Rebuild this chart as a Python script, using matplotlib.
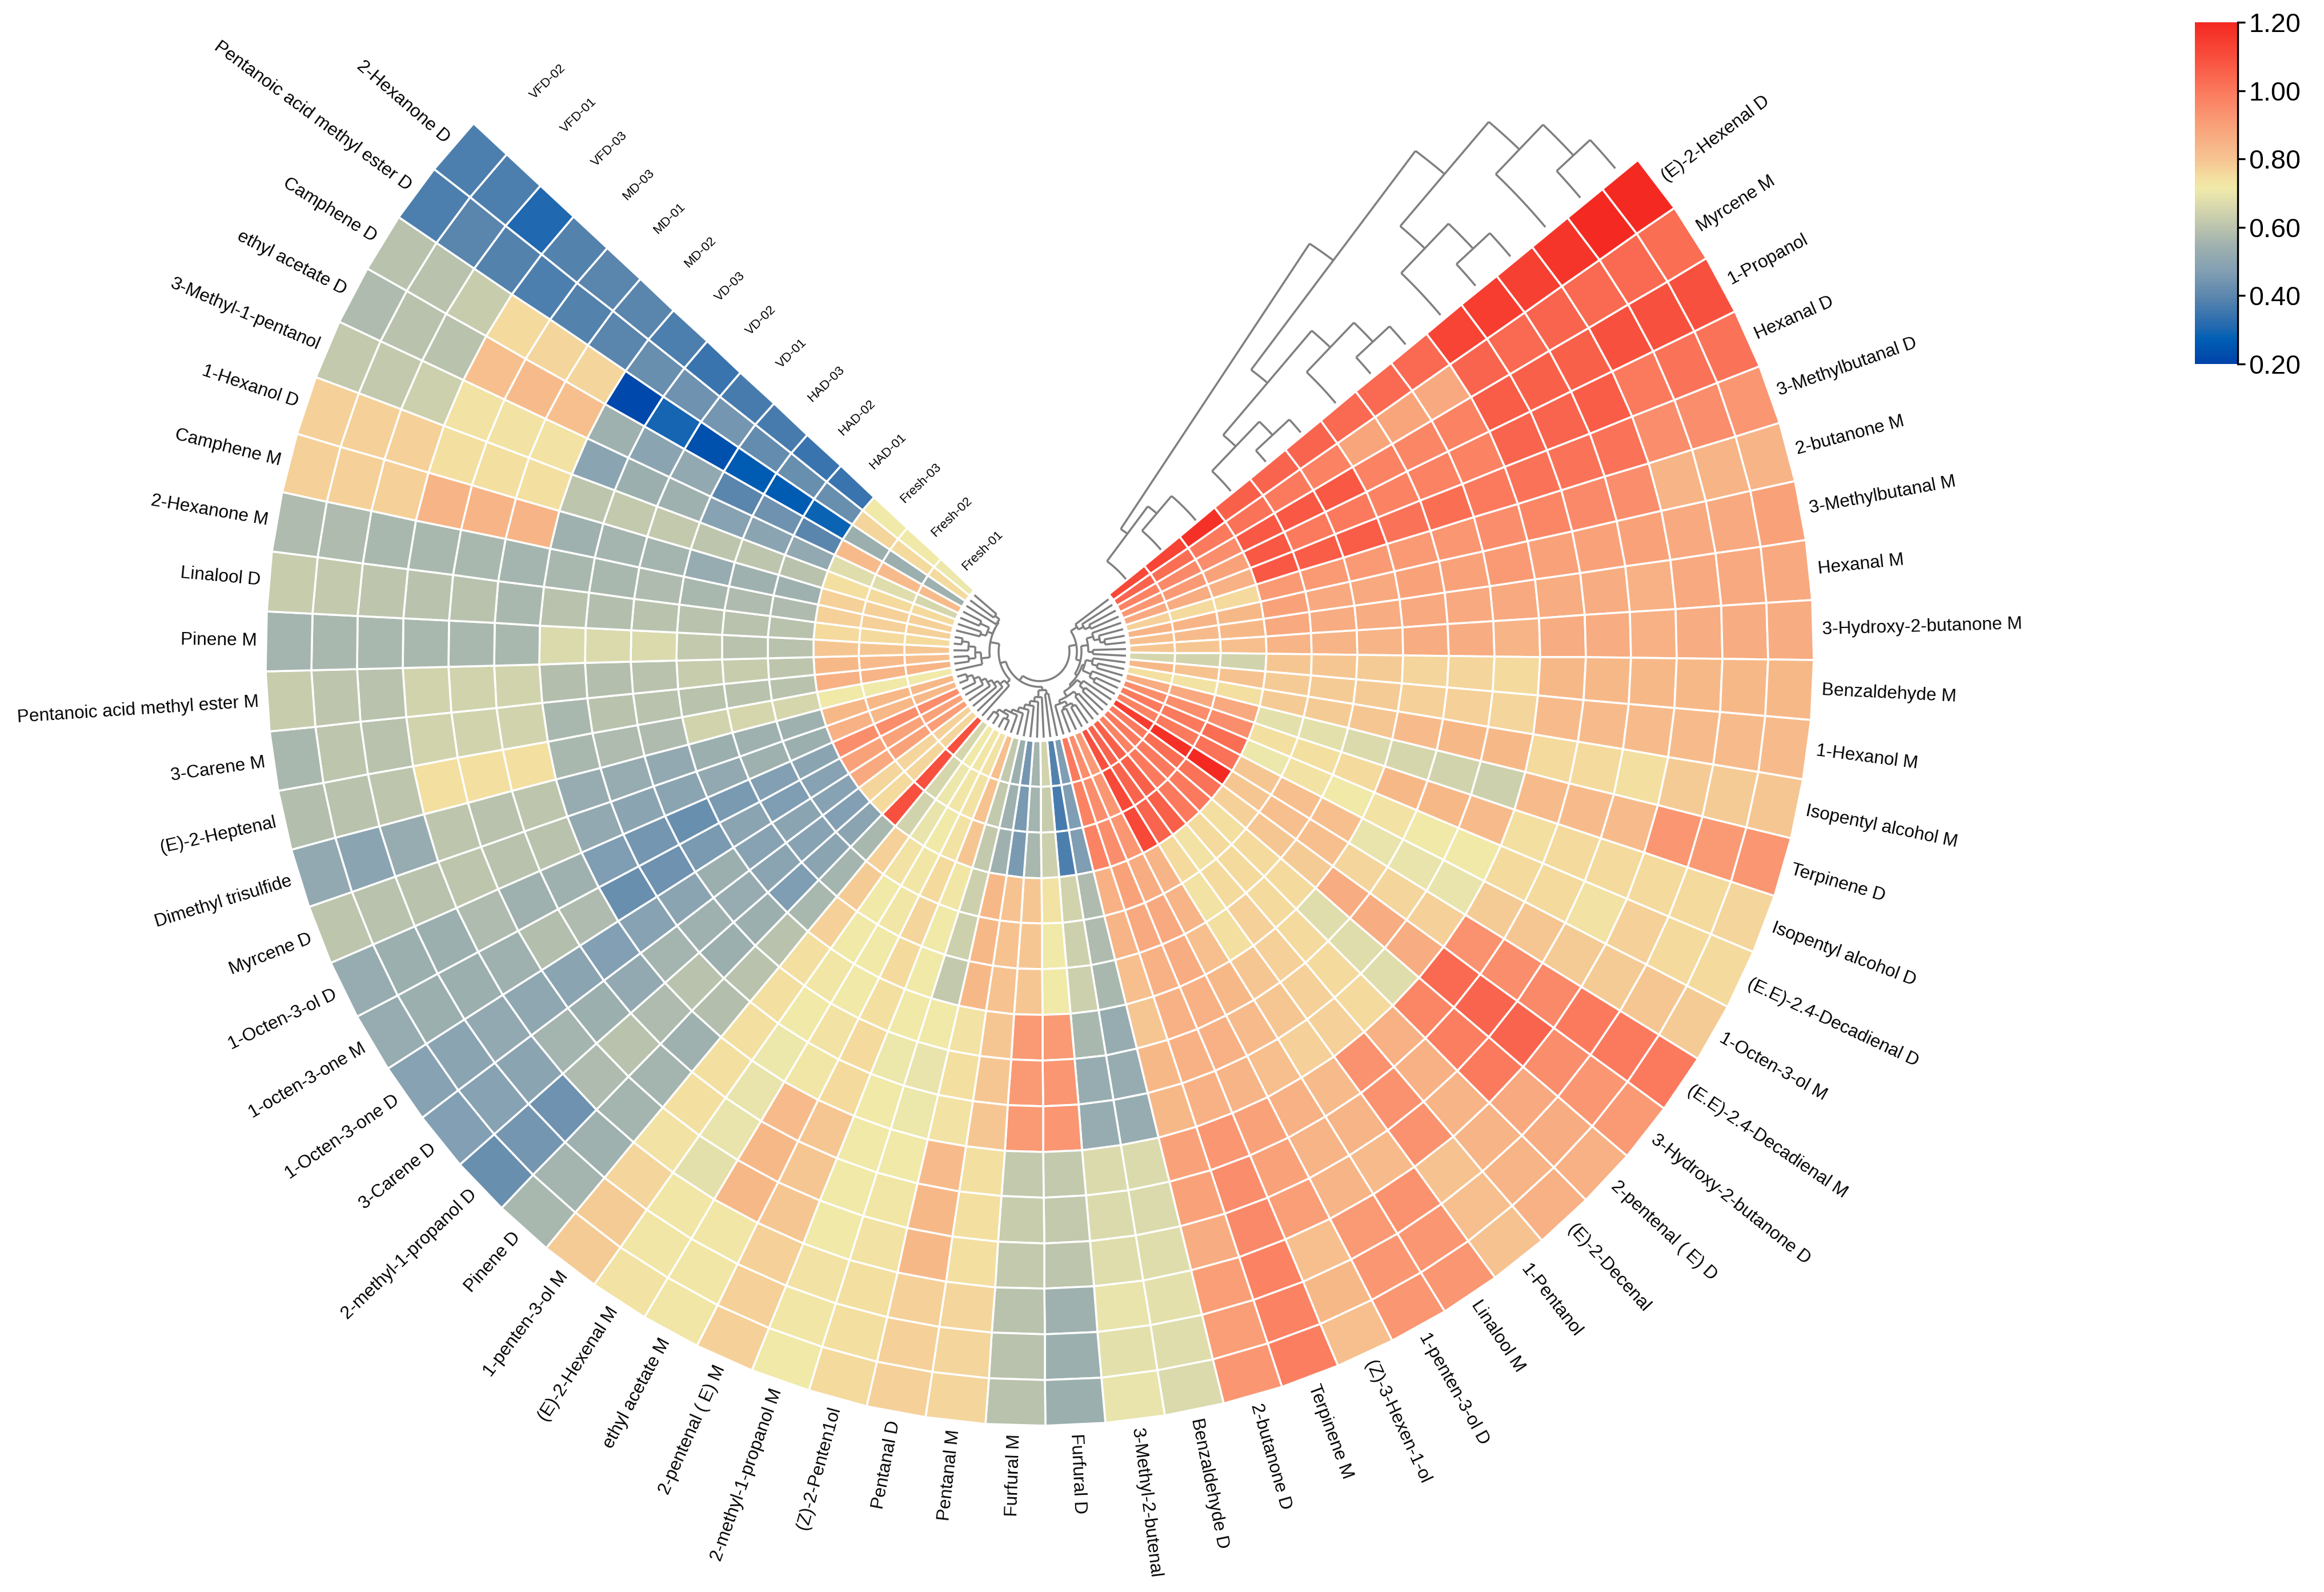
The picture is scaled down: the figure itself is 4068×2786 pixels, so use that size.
import numpy as np
import matplotlib
matplotlib.use("Agg")
import matplotlib.pyplot as plt
from matplotlib.colors import LinearSegmentedColormap

plt.rcParams['font.family'] = ['Liberation Sans', 'DejaVu Sans']

# sample (ring) names, innermost first
samples = ["Fresh-01", "Fresh-02", "Fresh-03", "HAD-01", "HAD-02", "HAD-03", "VD-01", "VD-02", "VD-03",
           "MD-02", "MD-01", "MD-03", "VFD-03", "VFD-01", "VFD-02"]

# compound (sector) names, clockwise from the top right
compounds = ["(E)-2-Hexenal D", "Myrcene M", "1-Propanol", "Hexanal D", "3-Methylbutanal D", "2-butanone M",
             "3-Methylbutanal M", "Hexanal M", "3-Hydroxy-2-butanone M", "Benzaldehyde M", "1-Hexanol M",
             "Isopentyl alcohol M", "Terpinene D", "Isopentyl alcohol D", "(E.E)-2.4-Decadienal D", "1-Octen-3-ol M",
             "(E.E)-2.4-Decadienal M", "3-Hydroxy-2-butanone D", "2-pentenal ( E) D", "(E)-2-Decenal", "1-Pentanol",
             "Linalool M", "1-penten-3-ol D", "(Z)-3-Hexen-1-ol", "Terpinene M", "2-butanone D", "Benzaldehyde D",
             "3-Methyl-2-butenal", "Furfural D", "Furfural M", "Pentanal M", "Pentanal D", "(Z)-2-Penten1ol",
             "2-methyl-1-propanol M", "2-pentenal ( E) M", "ethyl acetate M", "(E)-2-Hexenal M", "1-penten-3-ol M",
             "Pinene D", "2-methyl-1-propanol D", "3-Carene D", "1-Octen-3-one D", "1-octen-3-one M", "1-Octen-3-ol D",
             "Myrcene D", "Dimethyl trisulfide", "(E)-2-Heptenal", "3-Carene M", "Pentanoic acid methyl ester M",
             "Pinene M", "Linalool D", "2-Hexanone M", "Camphene M", "1-Hexanol D", "3-Methyl-1-pentanol",
             "ethyl acetate D", "Camphene D", "Pentanoic acid methyl ester D", "2-Hexanone D"]

# one list per compound, values from the innermost ring outwards
values = [
 [1.12,1.13,1.18,1.06,1.05,1.05,1.04,1.04,1.04,1.13,1.15,1.14,1.17,1.20,1.20],
 [1.05,1.03,1.00,1.02,1.00,0.98,0.89,0.89,0.88,1.05,1.04,1.05,1.04,1.04,1.03],
 [0.98,0.96,0.95,1.08,1.08,1.08,0.98,0.97,0.98,1.07,1.06,1.06,1.10,1.10,1.10],
 [0.93,0.92,0.90,1.08,1.00,1.00,0.98,0.98,0.98,1.05,1.05,1.07,1.00,1.02,1.02],
 [0.88,0.87,0.86,1.08,1.07,1.07,1.02,1.03,1.00,1.02,1.02,1.02,0.95,0.95,0.93],
 [0.78,0.76,0.76,0.92,0.92,0.92,0.92,0.93,0.95,0.97,0.96,0.95,0.85,0.85,0.85],
 [0.85,0.85,0.84,0.90,0.88,0.88,0.90,0.90,0.92,0.90,0.90,0.90,0.88,0.88,0.90],
 [0.82,0.83,0.84,0.88,0.87,0.87,0.88,0.88,0.88,0.87,0.87,0.86,0.88,0.88,0.88],
 [0.80,0.80,0.82,0.85,0.85,0.85,0.87,0.87,0.85,0.87,0.87,0.86,0.87,0.87,0.87],
 [0.66,0.65,0.65,0.80,0.80,0.79,0.77,0.77,0.76,0.84,0.84,0.84,0.84,0.84,0.84],
 [0.84,0.81,0.81,0.79,0.79,0.79,0.78,0.78,0.77,0.83,0.83,0.83,0.83,0.83,0.83],
 [0.75,0.74,0.75,0.79,0.79,0.80,0.83,0.84,0.84,0.76,0.76,0.75,0.79,0.79,0.80],
 [0.87,0.88,0.88,0.69,0.69,0.67,0.66,0.65,0.64,0.83,0.83,0.83,0.93,0.92,0.93],
 [0.95,0.95,0.95,0.75,0.75,0.76,0.84,0.84,0.83,0.75,0.76,0.76,0.76,0.76,0.77],
 [1.00,1.00,1.03,0.71,0.74,0.72,0.74,0.72,0.72,0.76,0.76,0.74,0.78,0.76,0.76],
 [0.98,1.00,1.02,0.80,0.82,0.82,0.70,0.70,0.70,0.79,0.80,0.79,0.79,0.80,0.79],
 [1.15,1.18,1.20,0.80,0.82,0.82,0.77,0.77,0.78,0.94,0.95,0.96,1.00,1.00,1.00],
 [1.00,1.03,1.02,0.78,0.80,0.79,0.87,0.87,0.87,1.04,1.05,1.05,0.95,0.93,0.92],
 [1.00,1.00,1.00,0.75,0.76,0.76,0.68,0.68,0.68,0.97,0.99,1.00,0.88,0.87,0.86],
 [0.98,1.00,1.00,0.76,0.76,0.76,0.76,0.76,0.76,0.86,0.86,0.85,0.85,0.85,0.86],
 [1.06,1.06,1.06,0.74,0.76,0.78,0.78,0.78,0.78,0.94,0.94,0.94,0.81,0.82,0.81],
 [1.05,1.05,1.05,0.76,0.74,0.75,0.80,0.80,0.78,0.83,0.85,0.83,0.94,0.93,0.93],
 [1.10,1.12,1.12,0.85,0.85,0.82,0.84,0.83,0.82,0.86,0.85,0.85,0.92,0.93,0.93],
 [0.92,0.93,0.93,0.87,0.88,0.87,0.86,0.86,0.85,0.90,0.90,0.91,0.82,0.84,0.82],
 [0.95,0.95,0.95,0.90,0.88,0.86,0.86,0.86,0.86,0.93,0.95,0.96,0.98,0.98,0.99],
 [1.00,0.98,0.98,0.86,0.85,0.82,0.80,0.84,0.84,0.90,0.90,0.87,0.91,0.91,0.93],
 [0.47,0.47,0.47,0.58,0.58,0.57,0.53,0.53,0.53,0.67,0.67,0.68,0.69,0.68,0.67],
 [0.39,0.37,0.38,0.65,0.64,0.64,0.57,0.53,0.53,0.67,0.67,0.68,0.70,0.69,0.70],
 [0.65,0.63,0.64,0.74,0.72,0.72,0.92,0.93,0.93,0.62,0.62,0.61,0.55,0.54,0.54],
 [0.56,0.56,0.57,0.80,0.80,0.80,0.92,0.92,0.92,0.62,0.63,0.62,0.60,0.60,0.60],
 [0.45,0.46,0.46,0.81,0.81,0.81,0.80,0.80,0.80,0.75,0.75,0.75,0.77,0.77,0.77],
 [0.54,0.55,0.55,0.84,0.84,0.84,0.74,0.75,0.74,0.83,0.84,0.84,0.78,0.78,0.78],
 [0.62,0.62,0.62,0.64,0.64,0.62,0.72,0.70,0.71,0.72,0.73,0.74,0.75,0.75,0.76],
 [0.82,0.81,0.80,0.73,0.72,0.72,0.72,0.71,0.72,0.72,0.72,0.72,0.74,0.73,0.72],
 [0.74,0.74,0.74,0.76,0.77,0.76,0.75,0.76,0.76,0.80,0.80,0.80,0.78,0.78,0.78],
 [0.73,0.73,0.72,0.73,0.73,0.72,0.72,0.74,0.73,0.83,0.84,0.84,0.73,0.73,0.73],
 [0.72,0.71,0.70,0.74,0.72,0.72,0.73,0.72,0.71,0.70,0.70,0.69,0.73,0.73,0.74],
 [0.66,0.66,0.65,0.78,0.79,0.78,0.75,0.75,0.75,0.75,0.75,0.74,0.77,0.79,0.79],
 [1.10,1.10,1.10,0.57,0.56,0.57,0.60,0.60,0.59,0.55,0.56,0.56,0.55,0.56,0.57],
 [0.77,0.77,0.76,0.50,0.50,0.47,0.54,0.54,0.60,0.58,0.60,0.58,0.44,0.45,0.43],
 [0.78,0.77,0.77,0.48,0.49,0.50,0.53,0.55,0.56,0.52,0.54,0.56,0.50,0.49,0.48],
 [0.91,0.90,0.88,0.49,0.50,0.49,0.54,0.50,0.49,0.48,0.50,0.51,0.52,0.50,0.49],
 [0.90,0.90,0.90,0.49,0.47,0.50,0.46,0.44,0.43,0.58,0.59,0.55,0.54,0.54,0.53],
 [0.95,0.95,0.95,0.50,0.48,0.46,0.43,0.45,0.47,0.55,0.55,0.58,0.54,0.54,0.53],
 [0.84,0.84,0.86,0.54,0.55,0.52,0.50,0.50,0.52,0.60,0.60,0.61,0.60,0.60,0.61],
 [0.84,0.84,0.84,0.55,0.55,0.54,0.52,0.53,0.53,0.61,0.60,0.61,0.53,0.50,0.52],
 [0.72,0.72,0.72,0.66,0.66,0.65,0.58,0.58,0.57,0.75,0.75,0.75,0.61,0.60,0.59],
 [0.85,0.85,0.86,0.60,0.60,0.60,0.60,0.60,0.57,0.65,0.65,0.65,0.60,0.61,0.57],
 [0.82,0.83,0.84,0.61,0.63,0.63,0.60,0.59,0.59,0.65,0.65,0.65,0.60,0.61,0.63],
 [0.80,0.80,0.80,0.60,0.60,0.62,0.67,0.67,0.67,0.57,0.57,0.57,0.57,0.57,0.56],
 [0.76,0.76,0.76,0.60,0.60,0.60,0.60,0.59,0.60,0.57,0.60,0.60,0.61,0.62,0.63],
 [0.78,0.78,0.78,0.58,0.58,0.57,0.58,0.57,0.57,0.56,0.57,0.57,0.57,0.58,0.58],
 [0.78,0.78,0.78,0.55,0.55,0.53,0.56,0.56,0.55,0.85,0.85,0.85,0.78,0.78,0.78],
 [0.76,0.76,0.75,0.60,0.61,0.61,0.62,0.62,0.61,0.75,0.75,0.75,0.78,0.78,0.78],
 [0.66,0.68,0.68,0.52,0.50,0.49,0.55,0.54,0.50,0.74,0.74,0.74,0.64,0.62,0.62],
 [0.83,0.83,0.83,0.40,0.44,0.40,0.52,0.50,0.55,0.82,0.83,0.82,0.60,0.60,0.58],
 [0.55,0.54,0.54,0.29,0.27,0.27,0.24,0.30,0.22,0.77,0.77,0.76,0.63,0.60,0.60],
 [0.76,0.76,0.77,0.43,0.43,0.42,0.45,0.44,0.43,0.40,0.39,0.38,0.39,0.40,0.38],
 [0.71,0.72,0.72,0.35,0.35,0.37,0.37,0.35,0.38,0.40,0.40,0.39,0.31,0.38,0.38],
]

# clustering of the compounds: (merge radius, child, child); integers are 1-based compound numbers
compound_tree = (52,
    (65,
        (78, 1, (88, 2, (98, 3, 4))),
        (73,
            (85, (97, 5, (107, 6, (115, 7, 8))), (93, 9, 10)),
            (78,
                (82, (94, 11, (104, 12, 13)), (98, 14, (108, 15, 16))),
                (82, (92, 17, (102, 18, 19)),
                     (92, (100, 20, 21), (98, (106, (112, 22, 23), (110, 24, 25)), 26)))))),
    (62,
        (68, (75, 27, 28), (80, 29, (88, 30, (96, 31, (104, 32, (112, 33, (118, 34,
             (124, (132, 35, 36), (132, 37, 38))))))))),
        (72,
            (80, 39, (90, 40, (98, 41, (106, 42, (115, 43, (125, 44, (135, 45, 46))))))),
            (88,
                (103, 47, (113, (125, 48, 49), (125, 50, (137, 51, 52)))),
                (88, (98, (108, 53, 54), (115, 55, 56)), (90, 57, (100, 58, 59))))))
)

# clustering of the samples: (merge angle, child, child); integers are 0-based ring numbers
sample_tree = (56.5,
    (53.3, 0, (49.7, 1, 2)),
    (53.1,
        (49.7, (46.3, 3, (42.9, 4, 5)), (46.3, 6, (42.9, 7, 8))),
        (49.7, (46.3, 9, (42.9, 10, 11)), (46.3, 12, (42.9, 13, 14)))))

colour_stops = [(0.20, "#0040a8"), (0.28, "#0060b5"), (0.31, "#2068b0"), (0.40, "#5a85ad"), (0.47, "#7f9db3"),
                (0.55, "#9fb1af"), (0.60, "#b8c2ad"), (0.65, "#d1d3ad"), (0.70, "#e8e4ac"), (0.72, "#f0e9a8"),
                (0.75, "#f3dfa0"), (0.80, "#f6c692"), (0.90, "#f9a27a"), (1.00, "#fb7a5e"), (1.10, "#f8503e"),
                (1.20, "#f42a22")]
vmin, vmax = 0.2, 1.2

# layout in output pixels
W, H = 4068, 2786
CX, CY = 1820, 1140
R_IN, R_OUT = 157, 1355
R_AX = 1700
START, SPAN = 39.4, 262.4
GREY = "#808080"

cmap = LinearSegmentedColormap.from_list(
    "heat", [((v - vmin) / (vmax - vmin), c) for v, c in colour_stops], N=512)

fig = plt.figure(figsize=(W / 300, H / 300), dpi=300, facecolor="white")
ax = fig.add_axes([(CX - R_AX) / W, (H - CY - R_AX) / H, 2 * R_AX / W, 2 * R_AX / H], projection="polar")
ax.set_axis_off()

C = np.array(values).T
theta_edges = np.deg2rad(START - SPAN * np.arange(len(compounds) + 1) / len(compounds))
r_edges = np.linspace(R_IN, R_OUT, len(samples) + 1)
mesh = ax.pcolormesh(theta_edges, r_edges, C, cmap=cmap, vmin=vmin, vmax=vmax,
                     edgecolors="white", linewidth=0.85, antialiased=True, shading="flat")
ax.set_xlim(0, 2 * np.pi)
ax.set_ylim(0, R_AX)

theta_mid = 0.5 * (theta_edges[:-1] + theta_edges[1:])
r_mid = 0.5 * (r_edges[:-1] + r_edges[1:])

lk = dict(color=GREY, lw=0.85, solid_capstyle="butt", solid_joinstyle="miter", clip_on=False)


def arc(t0, t1, r):
    n = max(2, int(abs(t1 - t0) / np.deg2rad(0.5)) + 2)
    ax.plot(np.linspace(t0, t1, n), np.full(n, r), **lk)


LEAF_R = R_IN - 6


def draw_compound(node):
    if isinstance(node, int):
        return theta_mid[node - 1], LEAF_R
    h, a, b = node
    ta, ra = draw_compound(a)
    tb, rb = draw_compound(b)
    ax.plot([ta, ta], [ra, h], **lk)
    ax.plot([tb, tb], [rb, h], **lk)
    arc(ta, tb, h)
    return 0.5 * (ta + tb), h


draw_compound(compound_tree)

LEAF_ANGLE = START + 0.6


def draw_sample(node):
    if isinstance(node, int):
        return r_mid[node], LEAF_ANGLE
    ang, a, b = node
    ra, aa = draw_sample(a)
    rb, ab = draw_sample(b)
    arc(np.deg2rad(aa), np.deg2rad(ang), ra)
    arc(np.deg2rad(ab), np.deg2rad(ang), rb)
    ax.plot(np.deg2rad([ang, ang]), [ra, rb], **lk)
    return 0.5 * (ra + rb), ang


draw_sample(sample_tree)

for t, name in zip(theta_mid, compounds):
    deg = np.rad2deg(t)
    right = np.cos(t) >= 0
    ax.text(t, R_OUT + 15, name, rotation=deg if right else deg + 180, rotation_mode="anchor",
            ha="left" if right else "right", va="center", fontsize=7.6, color="black", clip_on=False)

for r, name in zip(r_mid, samples):
    ax.text(np.deg2rad(132.5), r, name, rotation=44, rotation_mode="anchor", ha="left", va="center",
            fontsize=5.4, color="black", clip_on=False)

cax = fig.add_axes([3842 / W, (H - 637) / H, 75 / W, 598 / H])
cb = fig.colorbar(mesh, cax=cax, ticks=[0.2, 0.4, 0.6, 0.8, 1.0, 1.2], format="%.2f")
cb.outline.set_visible(False)
cax.spines["right"].set_visible(True)
cax.spines["right"].set_linewidth(0.8)
cax.tick_params(labelsize=11.2, length=3.2, width=0.8, pad=1.5, colors="black")
cb.solids.set_edgecolor("face")

fig.savefig("out.png", dpi=300, facecolor="white")
